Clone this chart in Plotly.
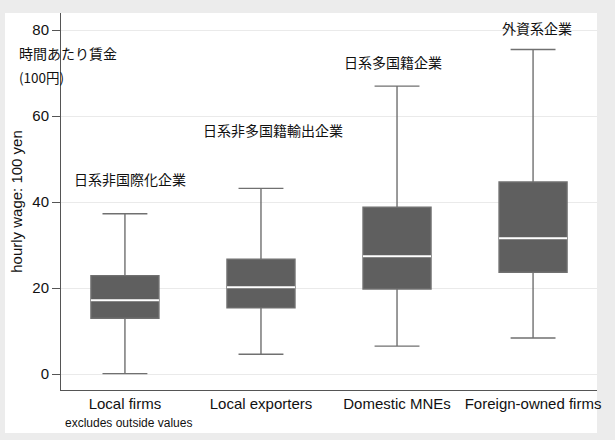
import plotly.graph_objects as go

# =========================
# DATA
# =========================

categories = ["Local firms", "Local exporters", "Domestic MNEs", "Foreign-owned firms"]
lower_whisker = [0.1, 4.6, 6.5, 8.4]
q1 = [13.0, 15.4, 19.8, 23.7]
median = [17.2, 20.2, 27.4, 31.6]
q3 = [22.9, 26.7, 38.8, 44.7]
upper_whisker = [37.3, 43.2, 67.0, 75.5]

jp_labels = ["日系非国際化企業", "日系非多国籍輸出企業", "日系多国籍企業", "外資系企業"]
jp_label_x = [0.04, 1.09, 1.97, 3.03]
jp_label_y = [45.3, 56.7, 72.6, 80.4]

y_ticks = [0, 20, 40, 60, 80]

FONT = "Liberation Sans, Arial, Helvetica, sans-serif"
JP_FONT = "Noto Sans CJK JP, sans-serif"

# =========================
# BOXES
# =========================

fig = go.Figure()

fig.add_trace(go.Box(
    x=categories,
    q1=q1,
    median=median,
    q3=q3,
    lowerfence=lower_whisker,
    upperfence=upper_whisker,
    width=0.5,
    whiskerwidth=0.66,
    fillcolor="#5f5f5f",
    line=dict(color="#707070", width=1.4),
    hoverinfo="skip",
    showlegend=False,
))

# white median line drawn as a flat box on top
fig.add_trace(go.Box(
    x=categories,
    q1=median,
    median=median,
    q3=median,
    lowerfence=median,
    upperfence=median,
    width=0.5,
    whiskerwidth=0,
    fillcolor="rgba(0,0,0,0)",
    line=dict(color="white", width=2),
    hoverinfo="skip",
    showlegend=False,
))

# =========================
# TEXT
# =========================

for txt, xx, yy in zip(jp_labels, jp_label_x, jp_label_y):
    fig.add_annotation(
        x=xx, y=yy, xref="x", yref="y", text=txt, showarrow=False,
        font=dict(family=JP_FONT, size=14, color="#111111"),
    )

fig.add_annotation(
    x=-0.082, y=74.65, xref="paper", yref="y", text="時間あたり賃金",
    xanchor="left", showarrow=False,
    font=dict(family=JP_FONT, size=14, color="#111111"),
)
fig.add_annotation(
    x=-0.082, y=69.1, xref="paper", yref="y", text="(100円)",
    xanchor="left", showarrow=False,
    font=dict(family=JP_FONT, size=13.5, color="#111111"),
)
fig.add_annotation(
    x=0.004, y=-0.0875, xref="paper", yref="paper", text="excludes outside values",
    xanchor="left", yanchor="middle", showarrow=False,
    font=dict(family=FONT, size=12, color="#111111"),
)

# gray frame around a white graph region
fig.add_shape(
    type="rect", xref="paper", yref="paper",
    x0=-0.1045, x1=1.0, y0=-0.114, y1=1.0,
    fillcolor="white", line=dict(width=0), layer="below",
)

# =========================
# LAYOUT
# =========================

fig.update_layout(
    width=615,
    height=440,
    margin=dict(l=61, r=18, t=13, b=50),
    paper_bgcolor="#ececec",
    plot_bgcolor="white",
    font=dict(family=FONT, size=15, color="#111111"),
    boxmode="overlay",
    xaxis=dict(
        range=[-0.47, 3.47],
        showline=True, linecolor="#555555", linewidth=1,
        ticks="", showgrid=False, zeroline=False,
        tickfont=dict(size=15),
    ),
    yaxis=dict(
        range=[-3.7, 84],
        tickvals=y_ticks,
        showline=True, linecolor="#555555", linewidth=1,
        ticks="outside", ticklen=8, tickcolor="#555555",
        showgrid=True, gridcolor="#eaeaea", gridwidth=1,
        zeroline=False,
        tickfont=dict(size=15),
        title=dict(text="hourly wage: 100 yen", font=dict(size=15), standoff=6),
    ),
)

# page body has a default 8px margin; drop it so the figure fills the window
fig.write_html(
    "out.html",
    config={"displayModeBar": False},
    post_script="document.body.style.margin='0';",
)
